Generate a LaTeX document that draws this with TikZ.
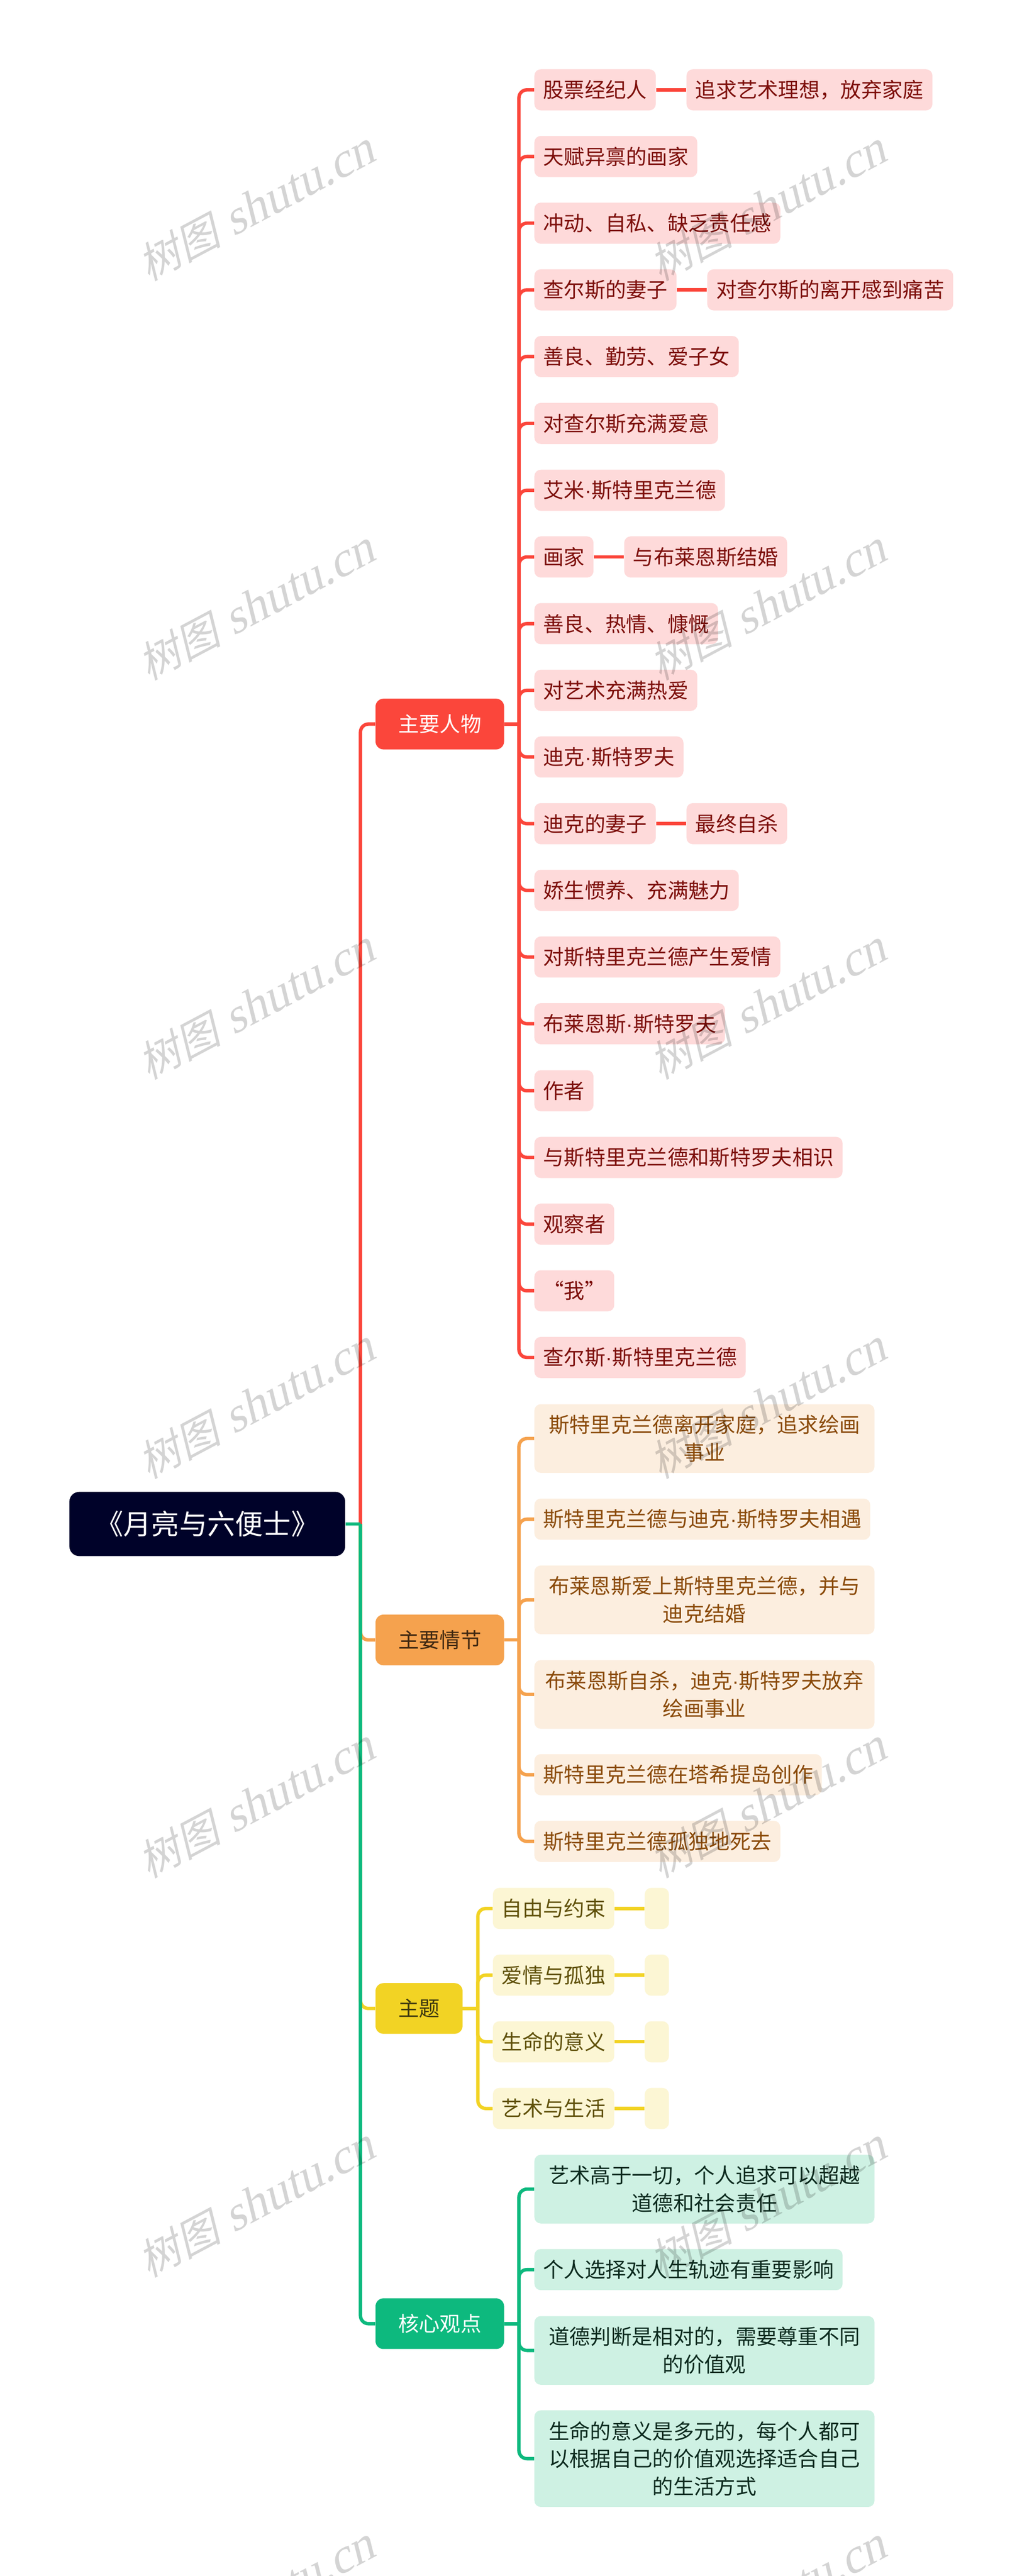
\documentclass[tikz,border=0pt]{standalone}
\usepackage{fontspec}
\setmainfont{Noto Sans CJK SC}
\newfontfamily\wmcjk[FakeSlant=0.25]{Noto Sans CJK SC}
\newfontfamily\wmlatin[FakeSlant=0.25]{Liberation Serif}
\newfontfamily\dotfont{Liberation Sans}
\newcommand{\mdot}{{\dotfont ·}}
\newcommand{\fullcomma}{\char"FF0C\relax}
\newcommand{\wmark}{{\wmcjk\fontsize{1.05cm}{1.1cm}\selectfont 树图}\hspace{.3cm}{\wmlatin\fontsize{1.22cm}{1.1cm}\selectfont shutu.cn}}

\definecolor{rootfill}{HTML}{000229}
\definecolor{redmain}{HTML}{FB463B}
\definecolor{redlight}{HTML}{FEDADA}
\definecolor{redtext}{HTML}{7D0F0B}
\definecolor{orangemain}{HTML}{F5A24E}
\definecolor{orangelight}{HTML}{FCEEDF}
\definecolor{orangetext}{HTML}{8A4A09}
\definecolor{orangedark}{HTML}{3F2811}
\definecolor{yellowmain}{HTML}{F2D324}
\definecolor{yellowlight}{HTML}{FCF6D4}
\definecolor{yellowtext}{HTML}{5F5009}
\definecolor{yellowdark}{HTML}{3F3A10}
\definecolor{greenmain}{HTML}{0DB97E}
\definecolor{greenlight}{HTML}{CEF1E3}
\definecolor{greentext}{HTML}{0C2A1E}

\tikzset{
  basebox/.style={anchor=west, inner ysep=0pt, font=\fontsize{0.52cm}{0.69cm}\selectfont},
  rootbox/.style={basebox, rounded corners=.25cm, fill=rootfill, text=white, minimum height=1.61cm,
    inner xsep=.655cm, font=\fontsize{0.70cm}{0.84cm}\selectfont},
  branchbox/.style={basebox, rounded corners=.2cm, minimum height=1.27cm, inner xsep=.57cm},
  itembox/.style={basebox, rounded corners=.16cm, minimum height=1.03cm, inner xsep=.22cm},
  redbranch/.style={branchbox, fill=redmain, text=white},
  orangebranch/.style={branchbox, fill=orangemain, text=orangedark},
  yellowbranch/.style={branchbox, fill=yellowmain, text=yellowdark},
  greenbranch/.style={branchbox, fill=greenmain, text=white},
  reditem/.style={itembox, fill=redlight, text=redtext},
  orangeitem/.style={itembox, fill=orangelight, text=orangetext},
  yellowitem/.style={itembox, fill=yellowlight, text=yellowtext},
  greenitem/.style={itembox, fill=greenlight, text=greentext},
  wrapped/.style={text width=8.08cm, align=center},
  blankitem/.style={yellowitem, minimum width=.605cm, inner xsep=0pt},
  redline/.style={draw=redmain, line width=.085cm, rounded corners=.2cm},
  orangeline/.style={draw=orangemain, line width=.085cm, rounded corners=.2cm},
  yellowline/.style={draw=yellowmain, line width=.085cm, rounded corners=.2cm},
  greenline/.style={draw=greenmain, line width=.085cm, rounded corners=.2cm},
  wmtext/.style={rotate=28, text=black, text opacity=.17, inner sep=0pt}
}

\begin{document}
\begin{tikzpicture}
        \useasboundingbox[fill=white] (0,0) rectangle (25.6,-64.52);

        \node[rootbox] (root) at (1.73,-38.17) {《月亮与六便士》};
        \coordinate (rootbus) at (9.03,-38.17);

        % main characters
        \node[redbranch] (people) at (9.40,-18.135) {主要人物};
        \coordinate (rbus) at (13.0,-18.135);
        \node[reditem] (r0) at (13.38,-2.25) {股票经纪人};
        \node[reditem] (r0x) at (17.19,-2.25) {追求艺术理想\fullcomma 放弃家庭};
        \node[reditem] (r1) at (13.38,-3.92) {天赋异禀的画家};
        \node[reditem] (r2) at (13.38,-5.59) {冲动、自私、缺乏责任感};
        \node[reditem] (r3) at (13.38,-7.26) {查尔斯的妻子};
        \node[reditem] (r3x) at (17.71,-7.26) {对查尔斯的离开感到痛苦};
        \node[reditem] (r4) at (13.38,-8.93) {善良、勤劳、爱子女};
        \node[reditem] (r5) at (13.38,-10.605) {对查尔斯充满爱意};
        \node[reditem] (r6) at (13.38,-12.28) {艾米\mdot 斯特里克兰德};
        \node[reditem] (r7) at (13.38,-13.95) {画家};
        \node[reditem] (r7x) at (15.63,-13.95) {与布莱恩斯结婚};
        \node[reditem] (r8) at (13.38,-15.62) {善良、热情、慷慨};
        \node[reditem] (r9) at (13.38,-17.29) {对艺术充满热爱};
        \node[reditem] (r10) at (13.38,-18.96) {迪克\mdot 斯特罗夫};
        \node[reditem] (r11) at (13.38,-20.63) {迪克的妻子};
        \node[reditem] (r11x) at (17.19,-20.63) {最终自杀};
        \node[reditem] (r12) at (13.38,-22.30) {娇生惯养、充满魅力};
        \node[reditem] (r13) at (13.38,-23.97) {对斯特里克兰德产生爱情};
        \node[reditem] (r14) at (13.38,-25.64) {布莱恩斯\mdot 斯特罗夫};
        \node[reditem] (r15) at (13.38,-27.32) {作者};
        \node[reditem] (r16) at (13.38,-28.99) {与斯特里克兰德和斯特罗夫相识};
        \node[reditem] (r17) at (13.38,-30.66) {观察者};
        \node[reditem, minimum width=2cm] (r18) at (13.38,-32.33) {“我”};
        \node[reditem] (r19) at (13.38,-34.00) {查尔斯\mdot 斯特里克兰德};

        % plot
        \node[orangebranch] (plot) at (9.40,-41.075) {主要情节};
        \coordinate (obus) at (13.0,-41.075);
        \node[orangeitem, wrapped, minimum height=1.72cm] (o0) at (13.38,-36.03) {斯特里克兰德离开家庭\fullcomma 追求绘画\\事业};
        \node[orangeitem] (o1) at (13.38,-38.05) {斯特里克兰德与迪克\mdot 斯特罗夫相遇};
        \node[orangeitem, wrapped, minimum height=1.72cm] (o2) at (13.38,-40.07) {布莱恩斯爱上斯特里克兰德\fullcomma 并与\\迪克结婚};
        \node[orangeitem, wrapped, minimum height=1.72cm] (o3) at (13.38,-42.44) {布莱恩斯自杀\fullcomma 迪克\mdot 斯特罗夫放弃\\绘画事业};
        \node[orangeitem] (o4) at (13.38,-44.45) {斯特里克兰德在塔希提岛创作};
        \node[orangeitem] (o5) at (13.38,-46.12) {斯特里克兰德孤独地死去};

        % themes
        \node[yellowbranch] (theme) at (9.40,-50.305) {主题};
        \coordinate (ybus) at (11.97,-50.305);
        \node[yellowitem] (y0) at (12.34,-47.80) {自由与约束};
        \node[yellowitem] (y1) at (12.34,-49.47) {爱情与孤独};
        \node[yellowitem] (y2) at (12.34,-51.14) {生命的意义};
        \node[yellowitem] (y3) at (12.34,-52.81) {艺术与生活};
        \node[blankitem] (y0x) at (16.145,-47.80) {};
        \node[blankitem] (y1x) at (16.145,-49.47) {};
        \node[blankitem] (y2x) at (16.145,-51.14) {};
        \node[blankitem] (y3x) at (16.145,-52.81) {};

        % core views
        \node[greenbranch] (core) at (9.40,-58.20) {核心观点};
        \coordinate (gbus) at (13.0,-58.20);
        \node[greenitem, wrapped, minimum height=1.72cm] (g0) at (13.38,-54.83) {艺术高于一切\fullcomma 个人追求可以超越\\道德和社会责任};
        \node[greenitem] (g1) at (13.38,-56.845) {个人选择对人生轨迹有重要影响};
        \node[greenitem, wrapped, minimum height=1.72cm] (g2) at (13.38,-58.87) {道德判断是相对的\fullcomma 需要尊重不同\\的价值观};
        \node[greenitem, wrapped, minimum height=2.42cm] (g3) at (13.38,-61.58) {生命的意义是多元的\fullcomma 每个人都可\\以根据自己的价值观选择适合自己\\的生活方式};

        \draw[redline] (people.east) -- (rbus);
        \draw[redline] (rbus) |- (r0.west);
        \draw[redline] (rbus) |- (r1.west);
        \draw[redline] (rbus) |- (r2.west);
        \draw[redline] (rbus) |- (r3.west);
        \draw[redline] (rbus) |- (r4.west);
        \draw[redline] (rbus) |- (r5.west);
        \draw[redline] (rbus) |- (r6.west);
        \draw[redline] (rbus) |- (r7.west);
        \draw[redline] (rbus) |- (r8.west);
        \draw[redline] (rbus) |- (r9.west);
        \draw[redline] (rbus) |- (r10.west);
        \draw[redline] (rbus) |- (r11.west);
        \draw[redline] (rbus) |- (r12.west);
        \draw[redline] (rbus) |- (r13.west);
        \draw[redline] (rbus) |- (r14.west);
        \draw[redline] (rbus) |- (r15.west);
        \draw[redline] (rbus) |- (r16.west);
        \draw[redline] (rbus) |- (r17.west);
        \draw[redline] (rbus) |- (r18.west);
        \draw[redline] (rbus) |- (r19.west);
        \draw[redline] (r0.east) -- (r0x.west);
        \draw[redline] (r3.east) -- (r3x.west);
        \draw[redline] (r7.east) -- (r7x.west);
        \draw[redline] (r11.east) -- (r11x.west);

        \draw[orangeline] (plot.east) -- (obus);
        \draw[orangeline] (obus) |- (o0.west);
        \draw[orangeline] (obus) |- (o1.west);
        \draw[orangeline] (obus) |- (o2.west);
        \draw[orangeline] (obus) |- (o3.west);
        \draw[orangeline] (obus) |- (o4.west);
        \draw[orangeline] (obus) |- (o5.west);

        \draw[yellowline] (theme.east) -- (ybus);
        \draw[yellowline] (ybus) |- (y0.west);
        \draw[yellowline] (ybus) |- (y1.west);
        \draw[yellowline] (ybus) |- (y2.west);
        \draw[yellowline] (ybus) |- (y3.west);
        \draw[yellowline] (y0.east) -- (y0x.west);
        \draw[yellowline] (y1.east) -- (y1x.west);
        \draw[yellowline] (y2.east) -- (y2x.west);
        \draw[yellowline] (y3.east) -- (y3x.west);

        \draw[greenline] (core.east) -- (gbus);
        \draw[greenline] (gbus) |- (g0.west);
        \draw[greenline] (gbus) |- (g1.west);
        \draw[greenline] (gbus) |- (g2.west);
        \draw[greenline] (gbus) |- (g3.west);

        % first-level lines, green and red over the others
        \draw[orangeline] (rootbus) |- (plot.west);
        \draw[yellowline] (rootbus) |- (theme.west);
        \draw[redline] (rootbus) |- (people.west);
        \draw[greenline] (rootbus) |- (core.west);
        \draw[greenline] (root.east) -- (rootbus);

        % watermark
        \node[wmtext] (w0a) at (6.41,-5.18) {\wmark};
        \node[wmtext] (w0b) at (19.22,-5.18) {\wmark};
        \node[wmtext] (w1a) at (6.41,-15.18) {\wmark};
        \node[wmtext] (w1b) at (19.22,-15.18) {\wmark};
        \node[wmtext] (w2a) at (6.41,-25.18) {\wmark};
        \node[wmtext] (w2b) at (19.22,-25.18) {\wmark};
        \node[wmtext] (w3a) at (6.41,-35.18) {\wmark};
        \node[wmtext] (w3b) at (19.22,-35.18) {\wmark};
        \node[wmtext] (w4a) at (6.41,-45.18) {\wmark};
        \node[wmtext] (w4b) at (19.22,-45.18) {\wmark};
        \node[wmtext] (w5a) at (6.41,-55.18) {\wmark};
        \node[wmtext] (w5b) at (19.22,-55.18) {\wmark};
        \node[wmtext] (w6a) at (6.41,-65.18) {\wmark};
        \node[wmtext] (w6b) at (19.22,-65.18) {\wmark};
\end{tikzpicture}
\end{document}
